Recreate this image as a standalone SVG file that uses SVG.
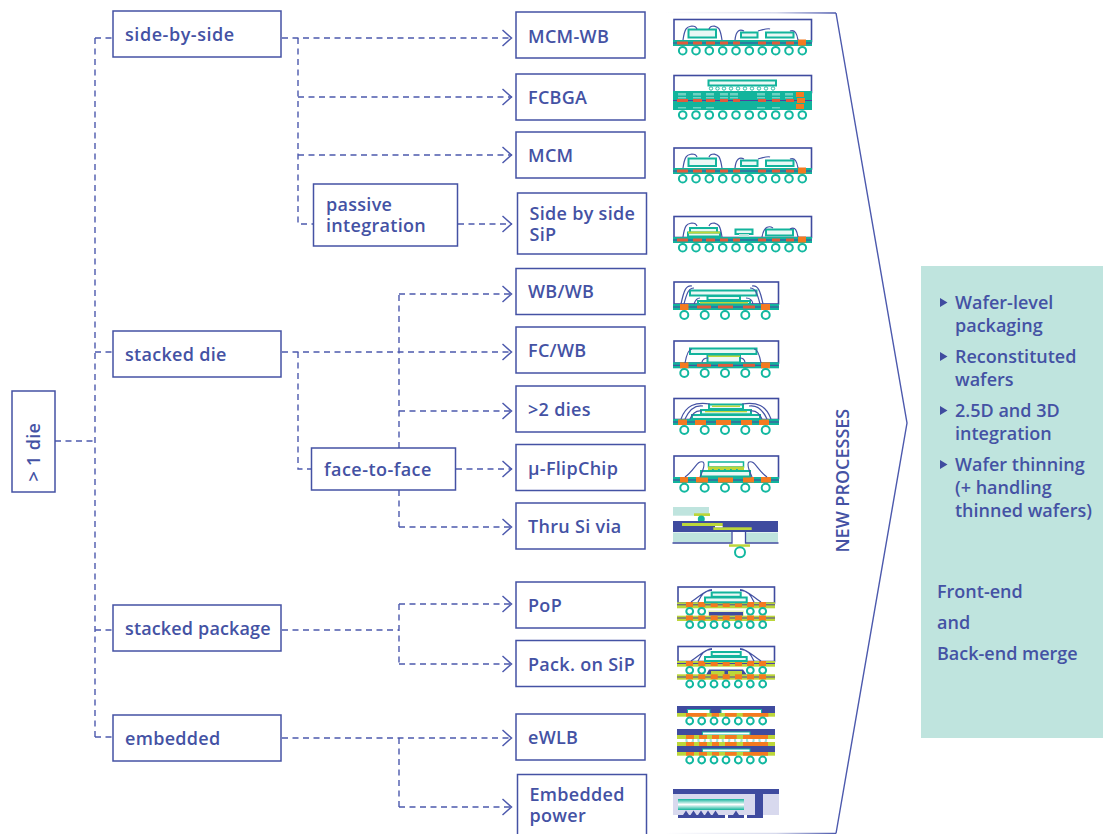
<svg xmlns="http://www.w3.org/2000/svg" xmlns:xlink="http://www.w3.org/1999/xlink" width="1103" height="834" viewBox="0 0 1103 834">
<style>
text{font-family:"Open Sans","Noto Sans","DejaVu Sans",sans-serif;font-weight:600;font-size:18px;fill:#4452a4;letter-spacing:.3px}
#panel text{letter-spacing:0}
.box{fill:#fff;stroke:#4452a4;stroke-width:1.5}
.c{fill:none;stroke:#4c59ad;stroke-width:1.4;stroke-dasharray:6 4.5}
.b{fill:#fff;stroke:#12b8a0;stroke-width:2}
.out{fill:#fff;stroke:#3f4b9f;stroke-width:1.6}
.sub{fill:#12b49c}
.pl{stroke:#4f3fa0;stroke-width:1;fill:none}
.r{fill:#e25a3c}
.o{fill:#f47a20}
.l{fill:#bcd63a}
.n{fill:#3f4b9f}
.d{fill:#eaf8f5;stroke:#12b49c;stroke-width:2}
.w{fill:none;stroke:#4452a4;stroke-width:1.2}
.lt{fill:#bfe4de}
.cav{fill:#fff;stroke:#12b49c;stroke-width:1}
</style>
<defs>
<marker id="arr" markerUnits="userSpaceOnUse" markerWidth="14" markerHeight="20" refX="10.5" refY="10" orient="auto"><path d="M1 2L10 10L1 18" fill="none" stroke="#4c59ad" stroke-width="1.5"/></marker>
<linearGradient id="gt" x1="665" x2="836" y1="0" y2="0" gradientUnits="userSpaceOnUse"><stop offset="0" stop-color="#4c59ad" stop-opacity="0"/><stop offset=".65" stop-color="#4c59ad" stop-opacity=".22"/><stop offset="1" stop-color="#4c59ad"/></linearGradient>
<linearGradient id="tg" x1="0" x2="0" y1="0" y2="1"><stop offset="0" stop-color="#12b49c"/><stop offset=".5" stop-color="#fff"/><stop offset="1" stop-color="#12b49c"/></linearGradient>
<g id="b10"><circle class="b" cx="682.7" r="3.8"/><circle class="b" cx="696" r="3.8"/><circle class="b" cx="709.3" r="3.8"/><circle class="b" cx="722.7" r="3.8"/><circle class="b" cx="736" r="3.8"/><circle class="b" cx="749.3" r="3.8"/><circle class="b" cx="762.3" r="3.8"/><circle class="b" cx="775.7" r="3.8"/><circle class="b" cx="789" r="3.8"/><circle class="b" cx="802.3" r="3.8"/></g>
<g id="b5"><circle class="b" cx="684.3" r="4"/><circle class="b" cx="704.7" r="4"/><circle class="b" cx="725" r="4"/><circle class="b" cx="745.3" r="4"/><circle class="b" cx="765.7" r="4"/></g>
<g id="b7"><circle class="b" cx="689.7" r="3.4"/><circle class="b" cx="701.7" r="3.4"/><circle class="b" cx="714" r="3.4"/><circle class="b" cx="726" r="3.4"/><circle class="b" cx="738.3" r="3.4"/><circle class="b" cx="750.3" r="3.4"/><circle class="b" cx="762.7" r="3.4"/></g>
<g id="s10"><rect class="sub" x="673" y="0" width="139" height="6"/><path class="pl" d="M673 3H812"/><g class="r"><rect x="677" y="1.5" width="11" height="3"/><rect x="693" y="1.5" width="9" height="3"/><rect x="706" y="1.5" width="9" height="3"/><rect x="720" y="1.5" width="8" height="3"/><rect x="733" y="1.5" width="7" height="3"/><rect x="758" y="1.5" width="8" height="3"/><rect x="772" y="1.5" width="8" height="3"/><rect x="786" y="1.5" width="8" height="3"/></g><rect class="o" x="798" y="-.5" width="8" height="6"/></g>
<g id="s5"><rect class="sub" x="673" y="0" width="106" height="6"/><path class="pl" d="M673 3H779"/><g class="r"><rect x="697" y="1.5" width="14" height="3"/><rect x="718" y="1.5" width="15" height="3"/><rect x="743" y="1.5" width="12" height="3"/></g><rect class="o" x="680" y="0" width="8.500" height="6"/><rect class="o" x="761" y="0" width="9" height="6"/></g>
<g id="p7"><g class="o"><rect x="686" y="0" width="7" height="5"/><rect x="698.300" y="0" width="7" height="5"/><rect x="710.700" y="0" width="7" height="5"/><rect x="722.700" y="0" width="7" height="5"/><rect x="735" y="0" width="7" height="5"/><rect x="747" y="0" width="7" height="5"/><rect x="759" y="0" width="7" height="5"/></g></g>
<g id="w1"><path class="w" d="M683 40C685 26 688 27 692 26Q696 26 697 29"/><path class="w" d="M722 40C720 27 718 27 714 26Q710 26 709 29"/></g>
</defs>

<g id="connectors">
<path class="c" d="M55 441H95"/><path class="c" d="M95 38V737"/><path class="c" d="M95 38H113"/><path class="c" d="M95 352H113"/><path class="c" d="M95 630H113"/><path class="c" d="M95 737H113"/>
<path class="c" marker-end="url(#arr)" d="M282 38H512"/><path class="c" d="M298 38V224H313"/><path class="c" marker-end="url(#arr)" d="M298 97H512"/><path class="c" marker-end="url(#arr)" d="M298 155H512"/><path class="c" marker-end="url(#arr)" d="M458 224H512"/>
<path class="c" marker-end="url(#arr)" d="M282 352H512"/><path class="c" d="M298 352V469H311"/><path class="c" d="M399 448V294"/><path class="c" marker-end="url(#arr)" d="M399 294H512"/><path class="c" marker-end="url(#arr)" d="M399 411H512"/><path class="c" marker-end="url(#arr)" d="M456 469H512"/><path class="c" d="M399 490V527"/><path class="c" marker-end="url(#arr)" d="M399 527H512"/>
<path class="c" d="M282 630H399"/><path class="c" marker-end="url(#arr)" d="M399 604H512"/><path class="c" d="M399 604V664"/><path class="c" marker-end="url(#arr)" d="M399 664H512"/>
<path class="c" marker-end="url(#arr)" d="M282 738H512"/><path class="c" d="M399 738V807"/><path class="c" marker-end="url(#arr)" d="M399 807H512"/>
</g>

<g id="n-root"><rect class="box" x="12" y="391" width="43" height="101"/><text transform="translate(40 481.500) rotate(-90)">&gt; 1 die</text></g>
<g id="n-side"><rect class="box" x="113" y="11" width="168" height="46"/><text x="125" y="41" style="letter-spacing:.55px">side-by-side</text></g>
<g id="n-stacked"><rect class="box" x="113" y="331" width="168" height="46"/><text x="125" y="361">stacked die</text></g>
<g id="n-stackedpkg"><rect class="box" x="113" y="605" width="168" height="46"/><text x="125" y="635" style="letter-spacing:.15px">stacked package</text></g>
<g id="n-embedded"><rect class="box" x="113" y="715" width="168" height="46"/><text x="125" y="745">embedded</text></g>
<g id="n-passive"><rect class="box" x="313.500" y="184" width="144" height="62"/><text x="326" y="211">passive</text><text x="326" y="232">integration</text></g>
<g id="n-f2f"><rect class="box" x="311.500" y="448" width="144" height="42"/><text x="324" y="476" style="letter-spacing:.47px">face-to-face</text></g>
<g id="n-mcmwb"><rect class="box" x="516" y="12" width="129" height="46"/><text x="528" y="43">MCM-WB</text></g>
<g id="n-fcbga"><rect class="box" x="516" y="74" width="129" height="46"/><text x="528" y="104">FCBGA</text></g>
<g id="n-mcm"><rect class="box" x="516" y="132" width="129" height="46"/><text x="528" y="162">MCM</text></g>
<g id="n-sip"><rect class="box" x="517.500" y="193" width="129" height="61"/><text x="529.500" y="220">Side by side</text><text x="529.500" y="241">SiP</text></g>
<g id="n-wbwb"><rect class="box" x="516" y="268.500" width="129" height="46"/><text x="528" y="298">WB/WB</text></g>
<g id="n-fcwb"><rect class="box" x="516" y="327" width="129" height="46"/><text x="528" y="357">FC/WB</text></g>
<g id="n-2dies"><rect class="box" x="516" y="386" width="129" height="46"/><text x="528" y="416">&gt;2 dies</text></g>
<g id="n-uflip"><rect class="box" x="516" y="444.500" width="129" height="46"/><text x="528" y="475">µ-FlipChip</text></g>
<g id="n-tsv"><rect class="box" x="516" y="503" width="129" height="46"/><text x="528" y="533">Thru Si via</text></g>
<g id="n-pop"><rect class="box" x="516" y="582" width="129" height="46"/><text x="528" y="612">PoP</text></g>
<g id="n-packsip"><rect class="box" x="516" y="640.500" width="129" height="46"/><text x="528" y="671">Pack. on SiP</text></g>
<g id="n-ewlb"><rect class="box" x="516" y="714" width="129" height="46"/><text x="528" y="744">eWLB</text></g>
<g id="n-power"><rect class="box" x="517.500" y="774.500" width="129" height="62"/><text x="529.500" y="801">Embedded</text><text x="529.500" y="822">power</text></g>

<g id="chevron" fill="none" stroke-width="1.4"><path stroke="url(#gt)" d="M665 12.500L836 13"/><path stroke="url(#gt)" d="M665 833.500H836"/><path stroke="#4c59ad" d="M836 13L907 423L836 833.500"/></g>
<text id="new-processes" transform="translate(849 552.500) rotate(-90)" style="letter-spacing:0">NEW PROCESSES</text>

<g id="panel"><rect class="lt" x="921" y="266" width="182" height="472"/>
<path class="n" d="M940 298L947.500 302.500L940 307ZM940 352L947.500 356.500L940 361ZM940 406L947.500 410.500L940 415ZM940 460L947.500 464.500L940 469Z"/>
<text x="955" y="309">Wafer-level</text><text x="955" y="332">packaging</text><text x="955" y="363">Reconstituted</text><text x="955" y="386">wafers</text><text x="955" y="417">2.5D and 3D</text><text x="955" y="440">integration</text><text x="955" y="471">Wafer thinning</text><text x="955" y="494">(+ handling</text><text x="955" y="517">thinned wafers)</text>
<text x="937" y="598">Front-end</text><text x="937" y="629">and</text><text x="937" y="660">Back-end merge</text></g>

<g id="pkg-mcmwb"><rect class="out" x="674" y="19.500" width="137.500" height="22"/><use href="#s10" y="40"/><use href="#b10" y="50.700"/>
<rect class="d" x="688.500" y="29.500" width="27.500" height="8"/><rect class="d" x="741" y="32.500" width="16.500" height="5"/><rect class="d" x="766" y="32.500" width="27.500" height="5"/>
<use href="#w1"/><path class="w" d="M735 40C736 30 740 29 744 31M758 31C765 29 768 28 770 29M790 31C795 29 797 34 798 40"/></g>
<g id="pkg-fcbga"><rect class="out" x="674" y="75.500" width="137.500" height="17"/><rect class="sub" x="673" y="91" width="139" height="19"/>
<g fill="#6fd2c2"><rect x="678" y="93" width="8" height="2.500"/><rect x="693" y="93" width="8" height="2.500"/><rect x="706" y="93" width="8" height="2.500"/><rect x="720" y="93" width="8" height="2.500"/><rect x="730" y="93" width="8" height="2.500"/><rect x="757" y="93" width="8" height="2.500"/><rect x="772" y="93" width="8" height="2.500"/><rect x="785" y="93" width="8" height="2.500"/><rect x="678" y="97" width="8" height="1.500"/><rect x="693" y="97" width="8" height="1.500"/><rect x="706" y="97" width="8" height="1.500"/><rect x="720" y="97" width="8" height="1.500"/><rect x="730" y="97" width="8" height="1.500"/><rect x="757" y="97" width="8" height="1.500"/><rect x="772" y="97" width="8" height="1.500"/><rect x="785" y="97" width="8" height="1.500"/><rect x="678" y="107" width="8" height="1.500"/><rect x="693" y="107" width="8" height="1.500"/><rect x="706" y="107" width="8" height="1.500"/><rect x="757" y="107" width="8" height="1.500"/><rect x="772" y="107" width="8" height="1.500"/></g>
<path class="pl" d="M673 100.500H812"/><g class="r"><rect x="677" y="99" width="11" height="3"/><rect x="693" y="99" width="9" height="3"/><rect x="706" y="99" width="9" height="3"/><rect x="720" y="99" width="8" height="3"/><rect x="733" y="99" width="7" height="3"/><rect x="758" y="99" width="8" height="3"/><rect x="772" y="99" width="8" height="3"/><rect x="786" y="99" width="8" height="3"/></g>
<g class="o"><rect x="796" y="92" width="8" height="5"/><rect x="797" y="98" width="8" height="5"/><rect x="796" y="104" width="8" height="5"/></g>
<rect class="d" x="708.500" y="80.500" width="67.500" height="5"/><g fill="#fff" stroke="#12b49c" stroke-width=".9"><circle cx="711" cy="88.500" r="1.700"/><circle cx="717.500" cy="88.500" r="1.700"/><circle cx="724" cy="88.500" r="1.700"/><circle cx="731" cy="88.500" r="1.700"/><circle cx="738" cy="88.500" r="1.700"/><circle cx="745" cy="88.500" r="1.700"/><circle cx="752" cy="88.500" r="1.700"/><circle cx="759" cy="88.500" r="1.700"/><circle cx="766" cy="88.500" r="1.700"/><circle cx="773" cy="88.500" r="1.700"/></g><use href="#b10" y="115"/></g>
<g id="pkg-mcm"><rect class="out" x="674" y="148" width="137.500" height="21"/><use href="#s10" y="168"/><use href="#b10" y="178.700"/>
<rect class="d" x="688.500" y="158.500" width="27.500" height="7.500"/><rect class="d" x="741" y="160.500" width="16.500" height="5.500"/><rect class="d" x="766" y="160.500" width="27.500" height="5.500"/>
<use href="#w1" y="128"/><path class="w" d="M735 168C736 158 740 157 744 159M758 159C765 157 768 156 770 157M790 159C795 157 797 162 798 168"/></g>
<g id="pkg-sip"><rect class="out" x="674" y="216.500" width="137.500" height="21"/><use href="#s10" y="237"/><use href="#b10" y="247.700"/>
<rect class="d" x="690" y="228" width="27" height="8"/><rect class="d" x="688" y="232.500" width="32" height="4"/><rect class="l" x="688" y="231.500" width="32" height="2"/>
<rect class="d" x="735.500" y="229.500" width="17" height="4.500"/><rect class="lt" x="739" y="234" width="10" height="3"/><rect class="d" x="766" y="229.500" width="27" height="6"/>
<use href="#w1" y="197"/><path class="w" d="M762 237C764 225 770 226 773 228M790 229C796 226 797 232 798 237"/></g>

<g id="pkg-wbwb"><rect class="out" x="674" y="282" width="104.500" height="22"/><use href="#s5" y="304"/><use href="#b5" y="315"/>
<rect class="d" x="690" y="290.500" width="66.500" height="5"/><rect class="d" x="707.500" y="296" width="32.500" height="4"/><rect class="d" x="698" y="301" width="52" height="3"/><rect class="l" x="700" y="302" width="48" height="1.500"/>
<path class="w" d="M681 304C684 290 686 285 692 286M684 304C687 292 689 288 694 288M763 304C760 290 758 285 752 286M760 304C757 292 755 288 750 288M694 304Q696 298 700 298M753 304Q752 298 746 298"/></g>
<g id="pkg-fcwb"><rect class="out" x="674" y="341" width="104.500" height="22"/><use href="#s5" y="362.300"/><use href="#b5" y="373"/>
<rect class="d" x="690" y="348.500" width="66.500" height="5.500"/><rect class="d" x="707.500" y="356" width="32.500" height="6.500"/><path class="l" d="M708 355.500H740V357H708Z"/>
<path class="w" d="M685 363C687 352 689 349 692 349M761 363C759 352 757 349 754 349M702 362Q703 358 708 358M745 362Q744 358 740 358"/></g>
<g id="pkg-2d"><rect class="out" x="674" y="398.500" width="104.500" height="21"/><rect class="sub" x="673" y="419" width="106" height="6"/><path class="pl" d="M673 422H779"/><g class="o"><rect x="678" y="419.500" width="9" height="5.500"/><rect x="695" y="419.500" width="11" height="5.500"/><rect x="716" y="419.500" width="15" height="5.500"/><rect x="741" y="419.500" width="11" height="5.500"/><rect x="759" y="419.500" width="10" height="5.500"/></g><use href="#b5" y="430"/>
<rect class="d" x="709" y="404.500" width="34" height="4.500"/><rect class="d" x="701" y="410" width="50" height="4.300"/><rect class="d" x="692" y="415" width="68" height="4"/><rect class="l" x="712" y="405.500" width="28" height="1.500"/><rect class="l" x="705" y="411" width="42" height="1.300"/>
<path class="w" d="M681 419C686 405 695 402 710 404M685 419C690 408 697 405 703 406M690 419C693 412 697 410 702 411M771 419C766 405 757 402 742 404M767 419C762 408 755 405 749 406M762 419C759 412 755 410 750 411"/></g>
<g id="pkg-uflip"><rect class="out" x="674" y="456" width="104.500" height="22"/><rect class="sub" x="673" y="477" width="106" height="6"/><path class="pl" d="M673 480H779"/><g class="o"><rect x="680" y="477" width="8" height="5.500"/><rect x="696" y="477" width="12" height="5.500"/><rect x="718" y="477" width="15" height="5.500"/><rect x="743" y="477" width="11" height="5.500"/><rect x="761" y="477" width="10" height="5.500"/></g><use href="#b5" y="487.700"/>
<rect fill="#fff" stroke="#12b49c" stroke-width="1.500" x="708.500" y="462" width="35" height="5"/><rect class="l" x="708" y="466.500" width="36" height="3.500"/><rect class="d" x="701" y="471" width="49" height="5.500"/><g fill="#12b49c"><rect x="712" y="469" width="1.800" height="2"/><rect x="718" y="469" width="1.800" height="2"/><rect x="724" y="469" width="1.800" height="2"/><rect x="730" y="469" width="1.800" height="2"/><rect x="736" y="469" width="1.800" height="2"/></g>
<path class="w" d="M685 477C695 470 697 460 703 462Q706 464 700 477M767 477C757 470 755 460 749 462Q746 464 752 477"/></g>
<g id="pkg-tsv"><rect class="lt" x="673" y="507" width="36" height="8.700"/><rect class="l" x="694" y="513.300" width="16" height="2.700"/><circle cx="701.300" cy="519" r="3.500" fill="#12b49c"/><rect class="n" x="673" y="521" width="105" height="11"/><rect class="l" x="682" y="523" width="40.700" height="3"/><rect class="l" x="713.300" y="527.300" width="38.400" height="2.700"/><rect x="715" y="526" width="7.700" height="1.300" fill="#fff"/>
<rect class="lt" x="673" y="532.500" width="58.500" height="10"/><rect class="lt" x="746" y="532.500" width="32" height="10"/><path fill="none" stroke="#3f4b9f" stroke-width="1.300" d="M672.500 543H732V531M745.500 531V543H778.500"/><rect class="l" x="729" y="544.300" width="21" height="2.500"/><circle class="b" cx="740" cy="552.300" r="5"/></g>

<g id="pkg-pop"><rect class="out" x="678" y="587" width="96.500" height="16"/><rect class="l" x="677" y="602.300" width="98" height="6"/><path class="pl" d="M677 604.800H775"/><use href="#p7" y="602"/>
<rect class="d" x="711.700" y="592.500" width="29" height="4.300"/><rect class="d" x="705" y="597.500" width="41.700" height="4.800"/>
<path class="w" d="M691 602C700 596 705 590 712 589.500M698 602C701 595 706 590 712 590.500M761 602C752 596 747 590 740 589.500M754 602C751 595 746 590 740 590.500"/>
<circle class="b" cx="689.700" cy="611.300" r="3.400"/><circle class="b" cx="701.700" cy="611.300" r="3.400"/><circle class="b" cx="750.300" cy="611.300" r="3.400"/><circle class="b" cx="762.700" cy="611.300" r="3.400"/>
<rect x="708" y="610.500" width="36" height="5.300" fill="#e8f3b8"/><rect class="n" x="709" y="612" width="34" height="3.800"/>
<rect class="l" x="677" y="615.700" width="98" height="5.300"/><path class="pl" d="M677 618H775"/><use href="#p7" y="615.500"/><use href="#b7" y="624.700"/></g>
<g id="pkg-packsip"><rect class="out" x="678" y="646.500" width="96.500" height="15"/><rect class="l" x="677" y="661" width="98" height="5.700"/><path class="pl" d="M677 663.500H775"/><use href="#p7" y="661"/>
<rect class="d" x="711.700" y="652" width="29" height="4"/><rect class="d" x="705" y="657" width="41.700" height="4"/>
<path class="w" d="M691 661C700 655 705 649 712 648.500M698 661C701 654 706 649 712 649.500M761 661C752 655 747 649 740 648.500M754 661C751 654 746 649 740 649.500"/>
<circle class="b" cx="689.700" cy="670.300" r="3.400"/><circle class="b" cx="701.700" cy="670.300" r="3.400"/><circle class="b" cx="750.300" cy="670.300" r="3.400"/><circle class="b" cx="762.700" cy="670.300" r="3.400"/>
<path class="n" d="M706 675L709 669.500H743L747 675Z"/><rect class="l" x="711" y="671" width="13.500" height="4"/><rect class="l" x="728" y="671" width="14" height="4"/>
<rect class="l" x="677" y="674.300" width="98" height="5.400"/><path class="pl" d="M677 677H775"/><use href="#p7" y="674.300"/><use href="#b7" y="684"/></g>

<g id="pkg-ewlb"><rect class="n" x="677" y="706" width="98" height="7"/><rect class="cav" x="687.500" y="709.500" width="22.500" height="4"/><rect class="cav" x="721" y="709.500" width="40.500" height="4"/>
<rect class="l" x="677" y="713" width="98" height="3.700"/><g class="o"><rect x="686" y="713" width="20.700" height="3.700"/><rect x="711.700" y="713" width="7.300" height="3.700"/><rect x="725" y="713" width="11.700" height="3.700"/><rect x="742.700" y="713" width="25.600" height="3.700"/></g><use href="#b7" y="721"/>
<use href="#b7" y="740"/><rect x="677" y="739" width="98" height="3" fill="#fff" opacity=".6"/><rect class="n" x="677" y="729" width="98" height="6"/><rect class="cav" x="702.500" y="732" width="47.500" height="3"/><rect class="l" x="677" y="735" width="98" height="4"/><g class="o"><rect x="686" y="735" width="8" height="4"/><rect x="699" y="735" width="8" height="4"/><rect x="712" y="735" width="7" height="4"/><rect x="725" y="735" width="11.700" height="4"/><rect x="743" y="735" width="25" height="4"/></g>
<rect class="l" x="677" y="742" width="98" height="4"/><g class="o"><rect x="686" y="742" width="8" height="4"/><rect x="699" y="742" width="8" height="4"/><rect x="712" y="742" width="7" height="4"/><rect x="725" y="742" width="11.700" height="4"/><rect x="743" y="742" width="25" height="4"/></g><rect class="n" x="677" y="746" width="98" height="6"/><rect class="cav" x="702.500" y="749" width="47.500" height="3"/>
<rect class="l" x="677" y="752" width="98" height="3.700"/><g class="o"><rect x="686" y="752" width="8" height="3.700"/><rect x="699" y="752" width="8" height="3.700"/><rect x="712" y="752" width="7" height="3.700"/><rect x="725" y="752" width="11.700" height="3.700"/><rect x="743" y="752" width="25" height="3.700"/></g><use href="#b7" y="760"/></g>
<g id="pkg-power"><rect x="673" y="794" width="106" height="21" fill="#d8d9ee"/><rect class="n" x="673" y="789" width="106" height="5"/><rect class="n" x="755" y="794" width="8" height="24"/><rect x="678" y="799" width="66" height="11" fill="url(#tg)"/><path class="n" d="M678 815H725V818H678ZM728 815H744V818H728ZM747 815H763V818H747ZM686 810.500L689 815H683ZM693.500 810.500L696.500 815H690.500ZM701 810.500L704 815H698ZM708 810.500L711 815H705ZM715.500 810.500L718.500 815H712.500ZM736 810.500L739 815H733Z"/></g>
</svg>
